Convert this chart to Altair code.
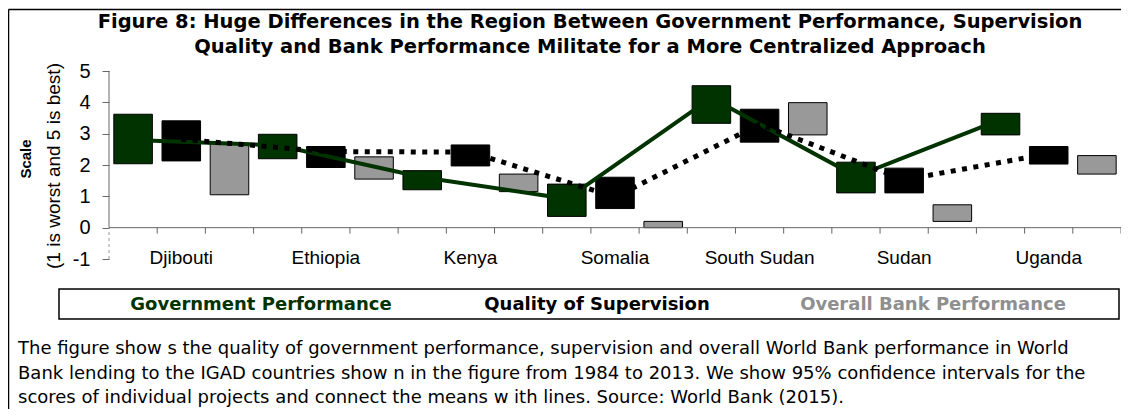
import altair as alt
import pandas as pd

countries = ["Djibouti", "Ethiopia", "Kenya", "Somalia", "South Sudan", "Sudan", "Uganda"]
series = ["Government Performance", "Quality of Supervision", "Overall Bank Performance"]
colors = ["#003300", "#000000", "#999999"]
legend_colors = ["#003300", "#000000", "#8f8f8f"]

gov_lo = [2.04, 2.20, 1.21, 0.36, 3.33, 1.11, 2.96]
gov_hi = [3.62, 2.98, 1.82, 1.39, 4.53, 2.09, 3.65]
gov_mean = [2.80, 2.63, 1.61, 0.92, 4.14, 1.64, 3.45]

sup_lo = [2.13, 1.92, 1.97, 0.61, 2.73, 1.11, 2.03]
sup_hi = [3.41, 2.59, 2.64, 1.61, 3.78, 1.90, 2.59]
sup_mean = [2.82, 2.43, 2.41, 0.98, 3.30, 1.53, 2.36]

bank_lo = [1.05, 1.55, 1.15, 0.00, 2.96, 0.20, 1.71]
bank_hi = [2.70, 2.26, 1.71, 0.20, 3.99, 0.73, 2.30]

y_ticks = [-1, 0, 1, 2, 3, 4, 5]

title_lines = [
    "Figure 8: Huge Differences in the Region Between Government Performance, Supervision",
    "Quality and Bank Performance Militate for a More Centralized Approach",
]
y_title = "Scale"
y_subtitle = "(1 is worst and 5 is best)"
caption_lines = [
    "The figure show s the quality of government performance, supervision and overall World Bank performance in World",
    "Bank lending to the IGAD countries show n in the figure from 1984 to 2013.  We show  95% confidence intervals for the",
    "scores of individual projects and connect the means w ith lines. Source: World Bank (2015).",
]

# ---------------------------------------------------------------- layout
W, H = 1012, 188
AX = "#666666"
n_slots = 3 * len(countries)
xs = alt.Scale(domain=[0, n_slots], nice=False, zero=False)
ys = alt.Scale(domain=[-1, 5], nice=False, zero=False)
TICK = 6 / (H / 6)  # 6 px downward tick, in data units

y_axis = alt.Axis(values=y_ticks, grid=False, domain=False, tickSize=7, tickColor=AX,
                  labelFont="Liberation Sans", labelFontSize=20, labelColor="black",
                  labelPadding=12, labelExpr="'' + datum.value", title=None, orient="left")


def X(field):
    return alt.X(field, scale=xs, axis=None, title=None)


def Y(field):
    return alt.Y(field, scale=ys, axis=y_axis, title=None)


lo_all = [gov_lo, sup_lo, bank_lo]
hi_all = [gov_hi, sup_hi, bank_hi]
rows = []
for i, c in enumerate(countries):
    for s, name in enumerate(series):
        slot = 3 * i + s
        rows.append({"country": c, "series": name, "x0": slot + 0.1, "x1": slot + 0.9,
                     "lo": lo_all[s][i], "hi": hi_all[s][i]})
boxes_df = pd.DataFrame(rows)

gov_df = pd.DataFrame({"xm": [3 * i + 0.5 for i in range(len(countries))], "mean": gov_mean})
sup_df = pd.DataFrame({"xm": [3 * i + 1.5 for i in range(len(countries))], "mean": sup_mean})
lab_df = pd.DataFrame({"xc": [3 * i + 1.5 for i in range(len(countries))],
                       "yl": [-1] * len(countries), "country": countries})
yaxis_df = pd.DataFrame({"x": [0, 0], "y": [0, -1], "y2": [5, 0], "kind": ["solid", "dash"]})
xaxis_df = pd.DataFrame({"x": [0], "x2": [n_slots], "y": [0]})
xticks_df = pd.DataFrame({"x": list(range(1, n_slots + 1)), "y": [0] * n_slots,
                          "y2": [-TICK] * n_slots})

boxes = alt.Chart(boxes_df).mark_rect(stroke="black", strokeWidth=1).encode(
    x=X("x0:Q"), x2="x1:Q", y=Y("lo:Q"), y2="hi:Q",
    fill=alt.Fill("series:N", scale=alt.Scale(domain=series, range=colors), legend=None),
)

gov_line = alt.Chart(gov_df).mark_line(color="#003300", strokeWidth=4).encode(
    x=X("xm:Q"), y=Y("mean:Q"))
sup_line = alt.Chart(sup_df).mark_line(color="black", strokeWidth=5, strokeDash=[5, 6.5],
                                       strokeCap="butt").encode(
    x=X("xm:Q"), y=Y("mean:Q"))

yaxis_solid = alt.Chart(yaxis_df[yaxis_df.kind == "solid"]).mark_rule(color=AX, strokeWidth=1).encode(
    x=X("x:Q"), y=Y("y:Q"), y2="y2:Q")
yaxis_dash = alt.Chart(yaxis_df[yaxis_df.kind == "dash"]).mark_rule(
    color="#999999", strokeWidth=1, strokeDash=[3, 3]).encode(
    x=X("x:Q"), y=Y("y:Q"), y2="y2:Q")
xaxis_line = alt.Chart(xaxis_df).mark_rule(color=AX, strokeWidth=1).encode(
    x=X("x:Q"), x2="x2:Q", y=Y("y:Q"))
xaxis_ticks = alt.Chart(xticks_df).mark_rule(color=AX, strokeWidth=1).encode(
    x=X("x:Q"), y=Y("y:Q"), y2="y2:Q")

labels = alt.Chart(lab_df).mark_text(font="Liberation Sans", fontSize=19, baseline="alphabetic",
                                     dy=5, color="black").encode(
    x=X("xc:Q"), y=Y("yl:Q"), text="country:N")

one = pd.DataFrame({"k": [0]})


def txt(text, x, y, **kw):
    return alt.Chart(one).mark_text(**kw).encode(
        x=alt.value(x), y=alt.value(y), text=alt.value(text))


title1 = txt(title_lines[0], 481, -42.7, font="DejaVu Sans", fontWeight="bold", fontSize=19.5,
             align="center", baseline="alphabetic")
title2 = txt(title_lines[1], 481, -17.7, font="DejaVu Sans", fontWeight="bold", fontSize=19.5,
             align="center", baseline="alphabetic")
ytitle = txt(y_title, -83.2, 88, font="Liberation Sans", fontWeight="bold", fontSize=15,
             align="center", baseline="middle", angle=270)
ysub = txt(y_subtitle, -55, 95, font="Liberation Sans", fontSize=19,
           align="center", baseline="middle", angle=270)

legend_box = alt.Chart(one).mark_rect(fill="white", stroke="black", strokeWidth=1.5).encode(
    x=alt.value(-50), x2=alt.value(1010), y=alt.value(218), y2=alt.value(248))
leg_x = [152, 488, 824]
legend_texts = [txt(series[k], leg_x[k], 239, font="DejaVu Sans", fontWeight="bold", fontSize=18,
                    align="center", baseline="alphabetic", color=legend_colors[k]) for k in range(3)]

cap_y = [283, 307.5, 332]
captions = [txt(caption_lines[k], -91, cap_y[k], font="DejaVu Sans", fontSize=18,
                align="left", baseline="alphabetic", color="black") for k in range(3)]

frame_top = alt.Chart(one).mark_rule(color="black", strokeWidth=1.5).encode(
    x=alt.value(-100.5), x2=alt.value(1012), y=alt.value(-61.5))
frame_left = alt.Chart(one).mark_rule(color="black", strokeWidth=1.5).encode(
    x=alt.value(-100.5), y=alt.value(-61.5), y2=alt.value(340))

chart = alt.layer(
    boxes, yaxis_solid, yaxis_dash, xaxis_line, xaxis_ticks, gov_line, sup_line, labels,
    frame_top, frame_left, title1, title2, ytitle, ysub, legend_box, *legend_texts, *captions,
).properties(
    width=W, height=H,
    autosize=alt.AutoSizeParams(type="none"),
    padding={"left": 101, "top": 63, "right": 0, "bottom": 150},
    background="white",
).configure_view(stroke=None)

chart.save("out.html", embed_options={"renderer": "svg", "actions": False})
